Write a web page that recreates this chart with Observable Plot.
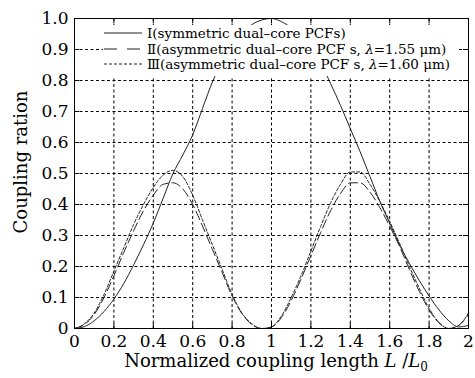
<!DOCTYPE html>
<html><head><meta charset="utf-8">
<script src="https://cdn.jsdelivr.net/npm/d3@7"></script>
<script src="https://cdn.jsdelivr.net/npm/@observablehq/plot@0.6"></script>
<style>
body{margin:0;background:#fff;}
#wrap{width:475px;height:378px;}
</style></head><body><div id="wrap"></div>
<script>
const xs = [0,0.05,0.1,0.15,0.2,0.25,0.3,0.35,0.4,0.45,0.5,0.55,0.6,0.65,0.7,0.75,0.8,0.85,0.9,0.95,1.0,1.05,1.1,1.15,1.2,1.25,1.3,1.35,1.4,1.45,1.5,1.55,1.6,1.65,1.7,1.75,1.8,1.85,1.9,1.95,2.0];
const seriesI = [0,0.006,0.025,0.055,0.095,0.145,0.205,0.27,0.34,0.42,0.50,0.56,0.625,0.71,0.795,0.86,0.91,0.95,0.98,0.995,1.0,0.99,0.97,0.94,0.90,0.855,0.79,0.72,0.645,0.57,0.49,0.41,0.34,0.27,0.21,0.155,0.105,0.06,0.025,0.005,0.01];
const seriesII = [0,0.013,0.045,0.10,0.17,0.245,0.315,0.38,0.43,0.465,0.47,0.45,0.40,0.33,0.255,0.18,0.105,0.048,0.013,0.0,0.005,0.035,0.09,0.16,0.235,0.31,0.38,0.435,0.47,0.47,0.44,0.39,0.33,0.265,0.19,0.12,0.06,0.018,0.0,0.01,0.045];
const seriesIII = [0,0.015,0.05,0.11,0.185,0.26,0.335,0.40,0.455,0.495,0.51,0.49,0.43,0.35,0.27,0.19,0.11,0.05,0.015,0.0,0.005,0.04,0.10,0.17,0.25,0.33,0.405,0.465,0.505,0.505,0.465,0.41,0.345,0.275,0.20,0.13,0.065,0.02,0.0,0.01,0.05];
const seriesNames = ["Ⅰ","Ⅱ","Ⅲ"];
const xTicks = [0,0.2,0.4,0.6,0.8,1,1.2,1.4,1.6,1.8,2];
const xTickLabels = ["0","0.2","0.4","0.6","0.8","1","1.2","1.4","1.6","1.8","2"];
const yTicks = [0,0.1,0.2,0.3,0.4,0.5,0.6,0.7,0.8,0.9,1.0];
const yTickLabels = ["0","0.1","0.2","0.3","0.4","0.5","0.6","0.7","0.8","0.9","1.0"];
const legendTexts = ["(symmetric dual\u2013core PCFs)","(asymmetric dual\u2013core PCF s, ","(asymmetric dual\u2013core PCF s, "];
const legendLambda = ["", "=1.55 \u03bcm)", "=1.60 \u03bcm)"];
const xTitle = "Normalized coupling length ";
const yTitle = "Coupling ration";

const rows = [];
const all = [seriesI, seriesII, seriesIII];
all.forEach((s, k) => xs.forEach((x, i) => rows.push({x, y: s[i], s: seriesNames[k]})));

const W = 475, H = 378, mT = 18, mB = 50, mL = 74, mR = 7;
const innerH = H - mT - mB, innerW = W - mL - mR;
const dashes = {"Ⅰ": null, "Ⅱ": "9,4", "Ⅲ": "3,2"};
const xFmt = new Map(xTicks.map((t, i) => [t, xTickLabels[i]]));
const yFmt = new Map(yTicks.map((t, i) => [t, yTickLabels[i]]));
const font = "DejaVu Serif";

const lineMarks = seriesNames.map(n => Plot.line(rows.filter(r => r.s === n), {
  x: "x", y: "y", stroke: "#222", strokeWidth: 1, curve: "monotone-x",
  strokeDasharray: dashes[n]
}));

const chart = Plot.plot({
  width: W, height: H, marginTop: mT, marginBottom: mB, marginLeft: mL, marginRight: mR,
  style: {fontFamily: font, background: "#fff", color: "#000"},
  x: {domain: [0, 2]},
  y: {domain: [0, 1]},
  marks: [
    Plot.gridX(xTicks, {stroke: "#000", strokeOpacity: 1, strokeDasharray: "3,2.5", strokeWidth: 1}),
    Plot.gridY(yTicks, {stroke: "#000", strokeOpacity: 1, strokeDasharray: "3,2.5", strokeWidth: 1}),
    ...lineMarks,
    Plot.tickX(xTicks, {x: d => d, stroke: "#000", insetTop: innerH - 5}),
    Plot.tickX(xTicks, {x: d => d, stroke: "#000", insetBottom: innerH - 5}),
    Plot.tickY(yTicks, {y: d => d, stroke: "#000", insetRight: innerW - 5}),
    Plot.tickY(yTicks, {y: d => d, stroke: "#000", insetLeft: innerW - 5}),
    Plot.frame({stroke: "#000", strokeWidth: 1}),
    Plot.axisX({ticks: xTicks, tickFormat: d => xFmt.get(d), tickSize: 0, tickPadding: 6, fontSize: 17, label: null}),
    Plot.axisY({ticks: yTicks, tickFormat: d => yFmt.get(d), tickSize: 0, tickPadding: 6, fontSize: 17, label: null})
  ]
});

document.getElementById("wrap").appendChild(chart);
const svgEl = chart.tagName.toLowerCase() === "svg" ? chart : chart.querySelector("svg");
const svg = d3.select(svgEl);

// legend
const lg = svg.append("g").attr("font-family", font).attr("font-size", 13.5).attr("text-anchor", "start");
lg.append("rect").attr("x", 103).attr("y", 25).attr("width", 354).attr("height", 51)
  .attr("fill", "#fff").style("fill", "#fff").style("stroke", "none");
const rowY = [34, 50, 65];
seriesNames.forEach((n, i) => {
  lg.append("line").attr("x1", 104).attr("x2", 142).attr("y1", rowY[i] - 1).attr("y2", rowY[i] - 1)
    .style("stroke", "#222").style("stroke-width", 1)
    .style("stroke-dasharray", n === "Ⅱ" ? "13,10" : n === "Ⅲ" ? "3,2" : "none");
  const t = lg.append("text").attr("x", 147).attr("y", rowY[i]).attr("dy", "0.33em")
    .attr("text-anchor", "start").style("fill", "#000");
  t.append("tspan").text(n);
  t.append("tspan").text(legendTexts[i]);
  if (legendLambda[i]) {
    t.append("tspan").attr("font-style", "italic").text("\u03bb");
    t.append("tspan").text(legendLambda[i]);
  }
});

// axis titles
const xt = svg.append("text").attr("font-family", font).attr("font-size", 18)
  .attr("text-anchor", "middle").attr("x", 276).attr("y", 367);
xt.append("tspan").text(xTitle);
xt.append("tspan").attr("font-style", "italic").text("L");
xt.append("tspan").text(" /");
xt.append("tspan").attr("font-style", "italic").text("L");
xt.append("tspan").attr("font-size", 12).attr("dy", 4).text("0");

svg.append("text").attr("font-family", font).attr("font-size", 18)
  .attr("text-anchor", "middle").attr("transform", "translate(27,162) rotate(-90)").text(yTitle);
</script></body></html>
